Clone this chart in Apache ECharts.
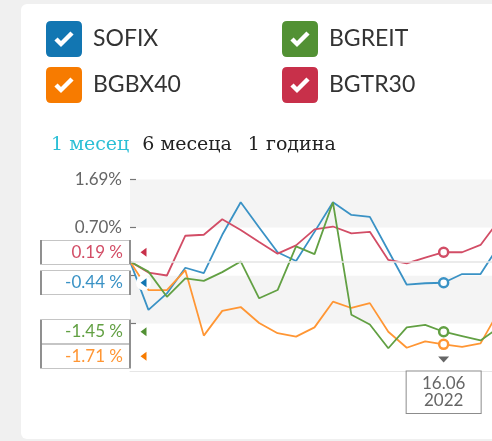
<!DOCTYPE html>
<html>
<head>
<meta charset="utf-8">
<script src="https://cdn.jsdelivr.net/npm/echarts@6/dist/echarts.min.js"></script>
<style>
  html, body { margin: 0; padding: 0; width: 492px; height: 441px; overflow: hidden; background: #f0f0f0; }
  .card { position: absolute; left: 21px; top: 4px; width: 600px; height: 435px; background: #fff; border-radius: 6px; }
  #myEchart { position: absolute; left: 0; top: 0; width: 560px; height: 441px; }
</style>
</head>
<body>
<div class="card"></div>
<div id="myEchart"></div>
<script>
// trading days, 1 month window
var dates = ['23.05.2022', '25.05.2022', '26.05.2022', '27.05.2022', '30.05.2022', '31.05.2022',
  '01.06.2022', '02.06.2022', '03.06.2022', '06.06.2022', '07.06.2022', '08.06.2022', '09.06.2022',
  '10.06.2022', '13.06.2022', '14.06.2022', '15.06.2022', '16.06.2022', '17.06.2022', '20.06.2022',
  '21.06.2022', '22.06.2022'];
// % change from first day
var sofix = [0, -1.00, -0.66, -0.13, -0.24, 0.55, 1.22, 0.70, 0.19, 0.01, 0.61, 1.22, 0.96, 0.92,
  0.22, -0.48, -0.45, -0.44, -0.26, -0.26, 0.33, 0.45];
var bgreit = [0, -0.21, -0.73, -0.35, -0.40, -0.22, 0.00, -0.76, -0.59, 0.31, 0.15, 1.22, -1.10, -1.30,
  -1.79, -1.36, -1.31, -1.45, -1.54, -1.63, -1.36, -1.25];
var bgbx40 = [0, -0.59, -0.59, -0.18, -1.53, -1.02, -0.94, -1.27, -1.48, -1.55, -1.36, -0.83, -0.96, -0.86,
  -1.45, -1.78, -1.65, -1.71, -1.76, -1.69, -1.02, -0.95];
var bgtr30 = [0, -0.23, -0.29, 0.53, 0.55, 0.87, 0.65, 0.40, 0.16, 0.33, 0.66, 0.72, 0.58, 0.61,
  0.03, -0.04, 0.08, 0.19, 0.19, 0.34, 0.85, 0.90];
var names = ['SOFIX', 'BGREIT', 'BGBX40', 'BGTR30'];
var values = [sofix, bgreit, bgbx40, bgtr30];
var periods = ['1 месец', '6 месеца', '1 година'];
var selIdx = 17; // 16.06.2022
var yMin = -2.27;
var yMax = 1.69;
var yStep = 0.99;

var boxColors = ['#1276b2', '#529134', '#f77b00', '#c8304a'];
var lineColors = ['#3a92c5', '#62a043', '#ff9634', '#d24d66'];
// checkbox: rounded square with a check cut out
var checkIcon = 'path://M5 0H31Q36 0 36 5V31Q36 36 31 36H5Q0 36 0 31V5Q0 0 5 0Z' +
  'M8.4 19.6L15 26.1L27.6 13.6L24.4 10.4L15 19.9L11.6 16.4Z';

var chart = echarts.init(document.getElementById('myEchart'));

function legendData (list) {
  return list.map(function (n) {
    var i = names.indexOf(n);
    return {name: n, itemStyle: {color: boxColors[i]}};
  });
}

function buildSeries (offsets) {
  // draw order: blue, red, orange, green
  var order = [0, 3, 2, 1];
  return order.map(function (i) {
    var v = values[i][selIdx];
    var dy = offsets[i] || 0;
    var marks = [
      // value box on the left
      {
        coord: [dates[0], v],
        symbol: 'rect',
        symbolSize: [89, 24],
        symbolOffset: [-44.5, dy],
        itemStyle: {color: '#fff', borderColor: '#8c8c8c', borderWidth: 1},
        label: {
          show: true,
          position: 'insideRight',
          distance: 8,
          formatter: v.toFixed(2) + ' %',
          color: lineColors[i],
          fontFamily: 'Lato',
          fontSize: 17
        }
      },
      {
        coord: [dates[0], v],
        symbol: 'circle',
        symbolSize: 15,
        symbolOffset: [13.5, dy],
        itemStyle: {color: '#fff'},
        label: {show: false}
      },
      {
        coord: [dates[0], v],
        symbol: 'triangle',
        symbolRotate: 90,
        symbolSize: [9, 6],
        symbolOffset: [13.5, dy],
        itemStyle: {color: boxColors[i]},
        label: {show: false}
      },
      // selected day marker
      {
        coord: [dates[selIdx], v],
        symbol: 'circle',
        symbolSize: 9,
        itemStyle: {color: '#fff', borderColor: lineColors[i], borderWidth: 2.5},
        label: {show: false}
      }
    ];
    var s = {
      name: names[i],
      type: 'line',
      data: values[i],
      symbol: 'none',
      smooth: false,
      color: lineColors[i],
      lineStyle: {width: 1.8, color: lineColors[i]},
      emphasis: {disabled: true},
      markPoint: {silent: true, animation: false, data: marks}
    };
    if (i === 0) {
      // zero line
      s.markLine = {
        silent: true,
        symbol: 'none',
        label: {show: false},
        lineStyle: {color: '#e4e4e4', width: 1.5, type: 'solid'},
        data: [{yAxis: 0}]
      };
      // small arrow over the selected date
      marks.push({
        coord: [dates[selIdx], yMin],
        symbol: 'triangle',
        symbolRotate: 180,
        symbolSize: [11, 6],
        symbolOffset: [0, -12],
        itemStyle: {color: '#666'},
        label: {show: false}
      });
    }
    return s;
  });
}

var legendText = {fontFamily: 'Lato', fontSize: 23, color: '#333', padding: [0, 0, 0, 6]};
var periodFont = {fontFamily: 'DejaVu Serif', fontSize: 19, fontWeight: 'normal'};

var option = {
  animation: false,
  title: {
    left: 51,
    top: 136,
    padding: 0,
    text: '{on|' + periods[0] + '}{p2|' + periods[1] + '}{p3|' + periods[2] + '}',
    textStyle: {
      fontWeight: 'normal',
      rich: {
        on: Object.assign({color: '#2bbfd6'}, periodFont),
        p2: Object.assign({color: '#222', padding: [0, 0, 0, 13]}, periodFont),
        p3: Object.assign({color: '#222', padding: [0, 0, 0, 16]}, periodFont)
      }
    }
  },
  legend: [
    {
      left: 46, top: 21, padding: 0, orient: 'vertical',
      itemWidth: 36, itemHeight: 36, itemGap: 10,
      icon: checkIcon,
      selectedMode: false,
      itemStyle: {borderWidth: 0},
      textStyle: legendText,
      data: legendData(['SOFIX', 'BGBX40'])
    },
    {
      left: 282, top: 21, padding: 0, orient: 'vertical',
      itemWidth: 36, itemHeight: 36, itemGap: 10,
      icon: checkIcon,
      selectedMode: false,
      itemStyle: {borderWidth: 0},
      textStyle: legendText,
      data: legendData(['BGREIT', 'BGTR30'])
    }
  ],
  grid: {
    left: 130,
    top: 179.5,
    width: 21 * 18.45,
    bottom: 69.5,
    outerBoundsMode: 'none'
  },
  xAxis: {
    type: 'category',
    data: dates,
    boundaryGap: false,
    axisLine: {show: true, onZero: false, lineStyle: {color: '#e6e6e6', width: 1}},
    axisTick: {show: false},
    splitLine: {show: false},
    axisLabel: {
      interval: function (index) { return index === selIdx; },
      formatter: function (value) { return value.slice(0, 5) + '\n' + value.slice(6); },
      margin: 0,
      color: '#666',
      fontFamily: 'Lato',
      fontSize: 17,
      lineHeight: 17,
      width: 74,
      align: 'center',
      backgroundColor: '#fff',
      borderColor: '#8c8c8c',
      borderWidth: 1,
      padding: [3.5, 0, 4, 0]
    }
  },
  yAxis: {
    type: 'value',
    min: yMin,
    max: yMax,
    interval: yStep,
    axisLine: {show: false},
    axisTick: {show: true, inside: true, length: 6, lineStyle: {color: '#777', width: 1.2}},
    splitLine: {show: false},
    splitArea: {show: true, areaStyle: {color: ['#ffffff', '#f4f4f4']}},
    axisLabel: {
      showMinLabel: false,
      margin: 8,
      color: '#666',
      fontFamily: 'Lato',
      fontSize: 17,
      // lower ticks sit under the value boxes
      formatter: function (v) { return v > 0 ? v.toFixed(2) + '%' : ''; }
    }
  },
  series: buildSeries({})
};
chart.setOption(option);

// push value boxes apart so they do not overlap
var boxH = 24.5;
var placed = names.map(function (n, i) {
  var p = chart.convertToPixel({gridIndex: 0}, [0, values[i][selIdx]]);
  return {i: i, y: p[1], y2: p[1]};
}).sort(function (a, b) { return a.y - b.y; });
for (var k = 1; k < placed.length; k++) {
  if (placed[k].y2 < placed[k - 1].y2 + boxH) placed[k].y2 = placed[k - 1].y2 + boxH;
}
var offsets = {};
placed.forEach(function (p) { offsets[p.i] = p.y2 - p.y; });
chart.setOption({series: buildSeries(offsets)});
</script>
</body>
</html>
